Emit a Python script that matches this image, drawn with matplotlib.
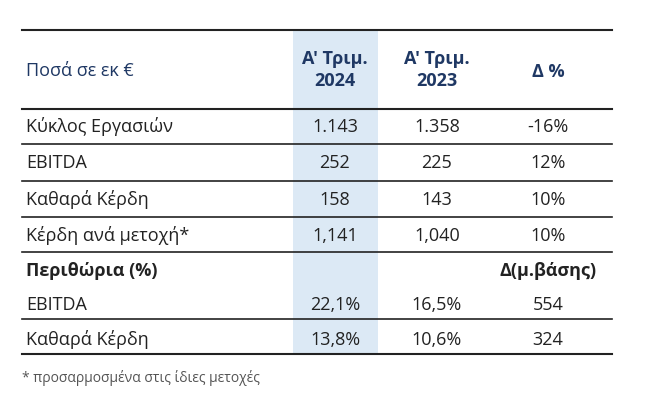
import matplotlib.pyplot as plt

labels = ['Κύκλος Εργασιών', 'EBITDA', 'Καθαρά Κέρδη', 'Κέρδη ανά μετοχή*',
          'Περιθώρια (%)', 'EBITDA', 'Καθαρά Κέρδη']
q2024 = ['1.143', '252', '158', '1,141', '', '22,1%', '13,8%']
q2023 = ['1.358', '225', '143', '1,040', '', '16,5%', '10,6%']
delta = ['-16%', '12%', '10%', '10%', 'Δ(μ.βάσης)', '554', '324']
headers = ['Ποσά σε εκ €', "Α' Τριμ.\n2024", "Α' Τριμ.\n2023", 'Δ %']
footnote = '* προσαρμοσμένα στις ίδιες μετοχές'

plt.rcParams['font.family'] = ['Open Sans', 'DejaVu Sans']
navy = '#1f3864'
txt = '#222222'
fs = 13

fig = plt.figure(figsize=(6.5, 4.06), dpi=100)
ax = fig.add_axes([0, 0, 1, 1])
ax.set_xlim(0, 650)
ax.set_ylim(406, 0)
ax.axis('off')

# highlighted column
ax.add_patch(plt.Rectangle((293, 31), 85, 324, color='#dce9f5', lw=0))

ax.text(26, 71, headers[0], color=navy, fontsize=fs, va='center')
for x, h in zip([335, 437], headers[1:3]):
    ax.text(x, 70, h, color=navy, fontsize=fs, fontweight='bold', va='center',
            ha='center', linespacing=1.35)
ax.text(548, 72, headers[3], color=navy, fontsize=fs, fontweight='bold', va='center', ha='center')

row_y = [127, 163, 200, 236, 271, 305, 340]
for i, y in enumerate(row_y):
    bold = i == 4
    ax.text(26, y, labels[i], fontsize=fs, color=txt, va='center',
            fontweight='bold' if bold else 'normal')
    ax.text(335, y, q2024[i], fontsize=fs, color=txt, va='center', ha='center')
    ax.text(437, y, q2023[i], fontsize=fs, color=txt, va='center', ha='center')
    ax.text(548, y, delta[i], fontsize=fs, color=txt, va='center', ha='center',
            fontweight='bold' if bold else 'normal')

for y, lw in [(31, 1.5), (110, 1.5), (145, 1.2), (182, 1.2), (218, 1.2),
              (253, 1.2), (320, 1.2), (355, 1.5)]:
    ax.plot([22, 612], [y, y], color='#222222', lw=lw)

ax.text(22, 378, footnote, fontsize=10, color='#555555', va='center')

fig.savefig('out.png', dpi=100)
